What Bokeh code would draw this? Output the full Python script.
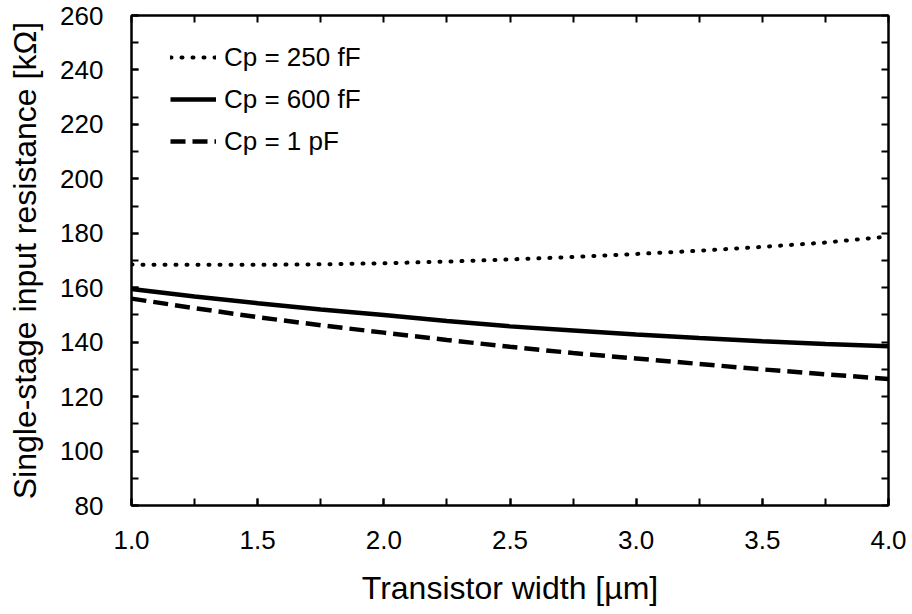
from bokeh.plotting import figure
from bokeh.models import (Range1d, LinearAxis, SingleIntervalTicker, FixedTicker, PrintfTickFormatter, Legend, LegendItem)
from bokeh.embed import file_html
from bokeh.resources import INLINE

# Data
width_um = [1.0, 1.25, 1.5, 1.75, 2.0, 2.25, 2.5, 2.75, 3.0, 3.25, 3.5, 3.75, 4.0]
r_250fF = [168.5, 168.4, 168.4, 168.6, 169.0, 169.6, 170.4, 171.3, 172.4, 173.6, 175.0, 176.6, 178.8]
r_600fF = [159.5, 156.8, 154.3, 152.0, 150.0, 147.8, 145.8, 144.3, 142.8, 141.5, 140.3, 139.3, 138.5]
r_1pF = [156.0, 152.5, 149.2, 146.2, 143.5, 140.8, 138.3, 136.0, 134.0, 132.0, 130.0, 128.2, 126.5]
series_labels = ["Cp = 250 fF", "Cp = 600 fF", "Cp = 1 pF"]
x_label = "Transistor width [µm]"
y_label = "Single-stage input resistance [kΩ]"
# tick marks on the top and right frame edges (no labels)
x_mirror_ticks = [1.0, 1.25, 1.5, 1.75, 2.0, 2.25, 2.5, 2.75, 3.0, 3.25, 3.5, 3.75, 4.0]
y_mirror_ticks = [80, 90, 100, 110, 120, 130, 140, 150, 160, 170, 180, 190, 200, 210, 220, 230, 240, 250, 260]

FONT = "Liberation Sans"

p = figure(frame_width=757, frame_height=490, output_backend="svg", toolbar_location=None,
           x_range=Range1d(1.0, 4.0), y_range=Range1d(80, 260),
           min_border_left=131, min_border_top=15, min_border_right=24, min_border_bottom=109,
           x_axis_type=None, y_axis_type=None)
p.grid.visible = False
p.outline_line_color = "black"
p.outline_line_width = 2
p.background_fill_color = "white"
p.border_fill_color = "white"

def style_axis(ax, labels=True):
    ax.axis_line_color = "black"
    ax.axis_line_width = 2
    ax.major_tick_in = 7
    ax.major_tick_out = 0
    ax.minor_tick_in = 7
    ax.minor_tick_out = 0
    ax.major_tick_line_width = 2
    ax.minor_tick_line_width = 2
    ax.major_tick_line_color = "black"
    ax.minor_tick_line_color = "black"
    if labels:
        ax.major_label_text_font = FONT
        ax.major_label_text_font_size = "26px"
        ax.major_label_text_color = "black"
        ax.axis_label_text_font = FONT
        ax.axis_label_text_font_size = "32px"
        ax.axis_label_text_font_style = "normal"
        ax.axis_label_text_color = "black"
    else:
        ax.major_label_standoff = 0

xb = LinearAxis(ticker=SingleIntervalTicker(interval=0.5, num_minor_ticks=2),
                formatter=PrintfTickFormatter(format="%.1f"), axis_label=x_label)
style_axis(xb)
xb.major_label_standoff = 25
xb.axis_label_standoff = 18
p.add_layout(xb, "below")

yl = LinearAxis(ticker=SingleIntervalTicker(interval=20, num_minor_ticks=2), axis_label=y_label)
style_axis(yl)
yl.major_label_standoff = 28
yl.axis_label_standoff = 14
p.add_layout(yl, "left")

xt = LinearAxis(ticker=FixedTicker(ticks=[], minor_ticks=x_mirror_ticks))
style_axis(xt, labels=False)
p.add_layout(xt, "above")

yr = LinearAxis(ticker=FixedTicker(ticks=[], minor_ticks=y_mirror_ticks))
style_axis(yr, labels=False)
p.add_layout(yr, "right")

l1 = p.line(width_um, r_250fF, line_color="black", line_width=4, line_dash="1 10", line_cap="round")
l2 = p.line(width_um, r_600fF, line_color="black", line_width=4.5)
l3 = p.line(width_um, r_1pF, line_color="black", line_width=4.5, line_dash="15 7")

legend = Legend(items=[LegendItem(label=series_labels[0], renderers=[l1]),
                       LegendItem(label=series_labels[1], renderers=[l2]),
                       LegendItem(label=series_labels[2], renderers=[l3])],
                location=(39, 348), padding=0, spacing=10, glyph_width=46, glyph_height=32,
                label_height=32, label_standoff=8, border_line_color=None,
                background_fill_alpha=0, label_text_font=FONT, label_text_font_size="26px",
                label_text_color="black")
p.add_layout(legend, "center")

open("out.html", "w").write(file_html(p, INLINE))
